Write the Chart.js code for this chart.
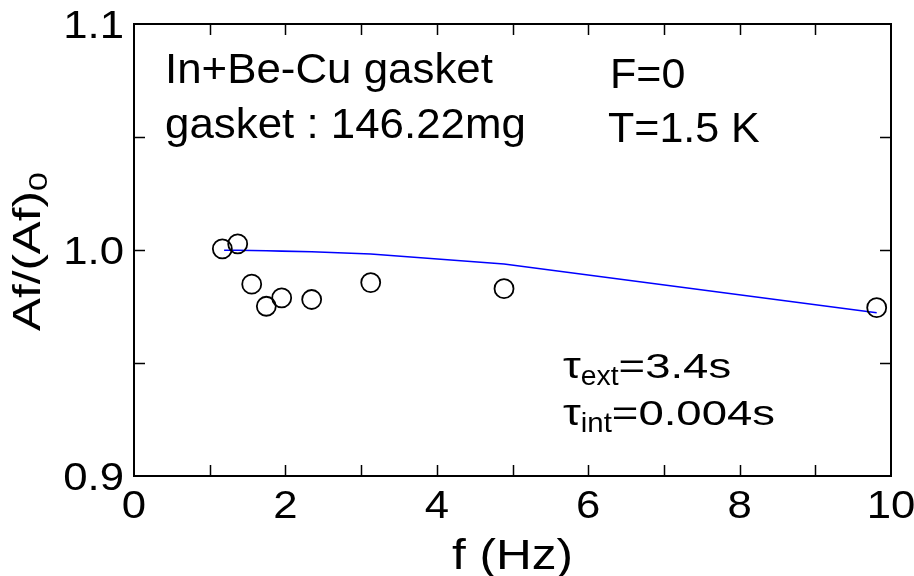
<!DOCTYPE html>
<html>
<head>
<meta charset="utf-8">
<script src="https://cdn.jsdelivr.net/npm/chart.js@4.4.0/dist/chart.umd.min.js"></script>
<style>
  html, body { margin: 0; padding: 0; background: #fff; }
</style>
</head>
<body>
<canvas id="chart" width="914" height="576"></canvas>
<script>
// measured points: f (Hz) vs Af/(Af)0
const freqHz   = [1.167, 1.37, 1.555, 1.748, 1.951, 2.347, 3.127, 4.888, 9.811];
const ampRatio = [1.0005, 1.0027, 0.9849, 0.9751, 0.9788, 0.9781, 0.9856, 0.9829, 0.9745];

// calculated curve (tau_ext = 3.4 s, tau_int = 0.004 s)
const fitFreq  = [1.19, 1.37, 1.555, 1.748, 1.951, 2.347, 3.127, 4.888, 9.811];
const fitRatio = [0.9999, 0.9999, 0.9998, 0.9997, 0.9995, 0.9992, 0.9982, 0.9938, 0.9722];

// tick labels
const xLabelValues = [0, 2, 4, 6, 8, 10];
const xLabelText   = ['0', '2', '4', '6', '8', '10'];
const yLabelValues = [0.9, 1.0, 1.1];
const yLabelText   = ['0.9', '1.0', '1.1'];

const FONT = '"Liberation Sans", Arial, Helvetica, sans-serif';

function pickLabel(values, texts, v) {
  const i = values.findIndex(t => Math.abs(t - v) < 1e-6);
  return i >= 0 ? texts[i] : '';
}

function textWidth(ctx, text, size, sx) {
  ctx.save();
  ctx.font = size + 'px ' + FONT;
  const w = ctx.measureText(text).width * sx;
  ctx.restore();
  return w;
}

// draw text stretched horizontally, returns drawn width
function drawText(ctx, text, x, y, size, sx) {
  ctx.save();
  ctx.translate(x, y);
  ctx.scale(sx, 1);
  ctx.font = size + 'px ' + FONT;
  ctx.textAlign = 'left';
  ctx.textBaseline = 'alphabetic';
  ctx.fillStyle = '#000';
  ctx.fillText(text, 0, 0);
  const w = ctx.measureText(text).width * sx;
  ctx.restore();
  return w;
}

// ================================
// frame with inward ticks on all sides, tick labels, text
// ================================
const framePlugin = {
  id: 'frame',
  afterDraw(chart) {
    const { ctx, chartArea: a, scales } = chart;
    const tick = 11;
    ctx.save();
    ctx.strokeStyle = '#000';
    ctx.lineWidth = 2;
    ctx.strokeRect(a.left, a.top, a.right - a.left, a.bottom - a.top);
    ctx.lineWidth = 1.5;
    ctx.beginPath();
    scales.x.ticks.forEach(t => {
      const px = Math.round(scales.x.getPixelForValue(t.value)) + 0.5;
      if (px <= a.left + 1 || px >= a.right - 1) return;
      ctx.moveTo(px, a.bottom); ctx.lineTo(px, a.bottom - tick);
      ctx.moveTo(px, a.top);    ctx.lineTo(px, a.top + tick);
    });
    scales.y.ticks.forEach(t => {
      const py = Math.round(scales.y.getPixelForValue(t.value)) + 0.5;
      if (py <= a.top + 1 || py >= a.bottom - 1) return;
      ctx.moveTo(a.left, py);  ctx.lineTo(a.left + tick, py);
      ctx.moveTo(a.right, py); ctx.lineTo(a.right - tick, py);
    });
    ctx.stroke();
    ctx.restore();

    // tick labels
    const tSize = 38, tSx = 1.15;
    scales.x.ticks.forEach(t => {
      const s = pickLabel(xLabelValues, xLabelText, t.value);
      if (!s) return;
      const px = scales.x.getPixelForValue(t.value);
      drawText(ctx, s, px - textWidth(ctx, s, tSize, tSx) / 2, 518, tSize, tSx);
    });
    scales.y.ticks.forEach(t => {
      const s = pickLabel(yLabelValues, yLabelText, t.value);
      if (!s) return;
      const py = scales.y.getPixelForValue(t.value);
      drawText(ctx, s, 124 - textWidth(ctx, s, tSize, tSx), py + 14, tSize, tSx);
    });

    // annotations
    drawText(ctx, 'In+Be-Cu gasket', 165, 83, 43, 1.02);
    drawText(ctx, 'gasket : 146.22mg', 165, 138, 43, 1.02);
    drawText(ctx, 'F=0', 610, 88, 43, 1.0);
    drawText(ctx, 'T=1.5 K', 608, 142, 43, 1.0);

    let x = 563;
    x += drawText(ctx, '\u03C4', x, 378, 36, 1.25);
    x += drawText(ctx, 'ext', x, 385, 27, 1.05);
    drawText(ctx, '=3.4s', x, 378, 35, 1.3);

    x = 563;
    x += drawText(ctx, '\u03C4', x, 425, 36, 1.25);
    x += drawText(ctx, 'int', x, 432, 28, 1.05);
    drawText(ctx, '=0.004s', x, 425, 35, 1.3);

    // x axis title
    const wx = textWidth(ctx, 'f (Hz)', 42, 1.18);
    drawText(ctx, 'f (Hz)', (a.left + a.right) / 2 - wx / 2, 569, 42, 1.18);

    // y axis title, rotated
    ctx.save();
    ctx.translate(40, 331);
    ctx.rotate(-Math.PI / 2);
    const yx = drawText(ctx, 'Af/(Af)', 0, 0, 38, 1.3);
    drawText(ctx, '0', yx, 7, 26, 1.3);
    ctx.restore();
  }
};

const ctx = document.getElementById('chart').getContext('2d');
const chart = new Chart(ctx, {
  type: 'scatter',
  data: {
    datasets: [
      {
        label: 'calc',
        type: 'line',
        data: fitFreq.map((f, i) => ({ x: f, y: fitRatio[i] })),
        borderColor: '#0000ff',
        borderWidth: 1.6,
        pointRadius: 0,
        tension: 0,
        fill: false,
        order: 2
      },
      {
        label: 'data',
        data: freqHz.map((f, i) => ({ x: f, y: ampRatio[i] })),
        pointRadius: 9.5,
        pointBorderWidth: 1.8,
        borderColor: '#000',
        backgroundColor: 'rgba(0,0,0,0)',
        showLine: false,
        order: 1
      }
    ]
  },
  options: {
    responsive: false,
    animation: false,
    devicePixelRatio: 1,
    layout: { padding: { left: 0, right: 23, top: 24, bottom: 0 } },
    plugins: { legend: { display: false }, tooltip: { enabled: false } },
    scales: {
      x: {
        type: 'linear',
        min: 0, max: 10,
        grid: { display: false },
        border: { display: false },
        afterFit: s => { s.height = 100; },
        ticks: { stepSize: 1, autoSkip: false, display: false }
      },
      y: {
        type: 'linear',
        min: 0.9, max: 1.1,
        grid: { display: false },
        border: { display: false },
        afterFit: s => { s.width = 134; },
        ticks: { stepSize: 0.05, autoSkip: false, display: false }
      }
    }
  },
  plugins: [framePlugin]
});
</script>
</body>
</html>
